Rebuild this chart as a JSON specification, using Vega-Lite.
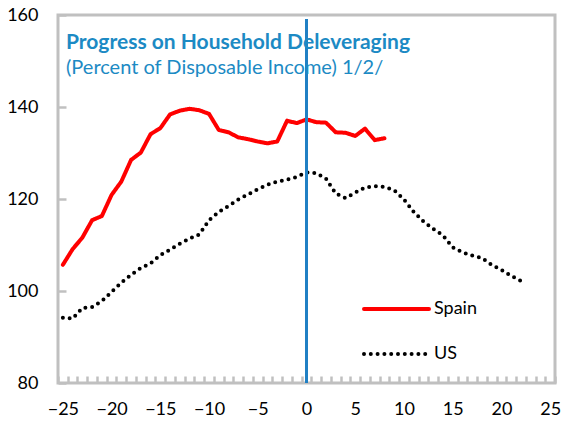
{
  "$schema": "https://vega.github.io/schema/vega-lite/v6.json",
  "width": 497,
  "height": 368,
  "autosize": {"type": "none"},
  "padding": {"left": 58, "top": 15, "right": 13, "bottom": 39},
  "background": "white",
  "config": {
    "font": "Lato",
    "view": {"stroke": "#c0c0c0", "strokeWidth": 3}
  },
  "title": {
    "text": "Progress on Household Deleveraging",
    "subtitle": "(Percent of Disposable Income) 1/2/",
    "anchor": "start",
    "frame": "group",
    "orient": "top",
    "offset": -72,
    "dx": 8,
    "font": "Lato",
    "fontSize": 21,
    "fontWeight": "bold",
    "color": "#1c8ac4",
    "subtitleFont": "Lato",
    "subtitleFontSize": 20,
    "subtitleColor": "#1c8ac4",
    "subtitlePadding": 5
  },
  "data": {
    "values": [
      {"series": "Spain", "x": -25, "y": 105.7},
      {"series": "Spain", "x": -24, "y": 109.1},
      {"series": "Spain", "x": -23, "y": 111.6},
      {"series": "Spain", "x": -22, "y": 115.4},
      {"series": "Spain", "x": -21, "y": 116.3},
      {"series": "Spain", "x": -20, "y": 120.9},
      {"series": "Spain", "x": -19, "y": 123.8},
      {"series": "Spain", "x": -18, "y": 128.5},
      {"series": "Spain", "x": -17, "y": 130.1},
      {"series": "Spain", "x": -16, "y": 134.1},
      {"series": "Spain", "x": -15, "y": 135.4},
      {"series": "Spain", "x": -14, "y": 138.4},
      {"series": "Spain", "x": -13, "y": 139.2},
      {"series": "Spain", "x": -12, "y": 139.6},
      {"series": "Spain", "x": -11, "y": 139.3},
      {"series": "Spain", "x": -10, "y": 138.5},
      {"series": "Spain", "x": -9, "y": 135.0},
      {"series": "Spain", "x": -8, "y": 134.5},
      {"series": "Spain", "x": -7, "y": 133.4},
      {"series": "Spain", "x": -6, "y": 133.0},
      {"series": "Spain", "x": -5, "y": 132.5},
      {"series": "Spain", "x": -4, "y": 132.1},
      {"series": "Spain", "x": -3, "y": 132.5},
      {"series": "Spain", "x": -2, "y": 137.0},
      {"series": "Spain", "x": -1, "y": 136.5},
      {"series": "Spain", "x": 0, "y": 137.3},
      {"series": "Spain", "x": 1, "y": 136.7},
      {"series": "Spain", "x": 2, "y": 136.6},
      {"series": "Spain", "x": 3, "y": 134.5},
      {"series": "Spain", "x": 4, "y": 134.4},
      {"series": "Spain", "x": 5, "y": 133.7},
      {"series": "Spain", "x": 6, "y": 135.3},
      {"series": "Spain", "x": 7, "y": 132.8},
      {"series": "Spain", "x": 8, "y": 133.2},
      {"series": "US", "x": -25, "y": 94.2},
      {"series": "US", "x": -24, "y": 94.0},
      {"series": "US", "x": -23, "y": 96.3},
      {"series": "US", "x": -22, "y": 96.5},
      {"series": "US", "x": -21, "y": 97.8},
      {"series": "US", "x": -20, "y": 99.8},
      {"series": "US", "x": -19, "y": 101.8},
      {"series": "US", "x": -18, "y": 103.5},
      {"series": "US", "x": -17, "y": 105.0},
      {"series": "US", "x": -16, "y": 106.0},
      {"series": "US", "x": -15, "y": 107.8},
      {"series": "US", "x": -14, "y": 109.0},
      {"series": "US", "x": -13, "y": 110.3},
      {"series": "US", "x": -12, "y": 111.4},
      {"series": "US", "x": -11, "y": 112.3},
      {"series": "US", "x": -10, "y": 115.4},
      {"series": "US", "x": -9, "y": 117.2},
      {"series": "US", "x": -8, "y": 118.5},
      {"series": "US", "x": -7, "y": 119.9},
      {"series": "US", "x": -6, "y": 121.0},
      {"series": "US", "x": -5, "y": 122.1},
      {"series": "US", "x": -4, "y": 123.1},
      {"series": "US", "x": -3, "y": 123.8},
      {"series": "US", "x": -2, "y": 124.2},
      {"series": "US", "x": -1, "y": 124.8},
      {"series": "US", "x": 0, "y": 125.8},
      {"series": "US", "x": 1, "y": 125.6},
      {"series": "US", "x": 2, "y": 124.4},
      {"series": "US", "x": 3, "y": 121.2},
      {"series": "US", "x": 4, "y": 120.2},
      {"series": "US", "x": 5, "y": 121.4},
      {"series": "US", "x": 6, "y": 122.5},
      {"series": "US", "x": 7, "y": 122.8},
      {"series": "US", "x": 8, "y": 122.6},
      {"series": "US", "x": 9, "y": 121.9},
      {"series": "US", "x": 10, "y": 119.9},
      {"series": "US", "x": 11, "y": 117.2},
      {"series": "US", "x": 12, "y": 115.1},
      {"series": "US", "x": 13, "y": 113.5},
      {"series": "US", "x": 14, "y": 112.1},
      {"series": "US", "x": 15, "y": 109.5},
      {"series": "US", "x": 16, "y": 108.4},
      {"series": "US", "x": 17, "y": 107.7},
      {"series": "US", "x": 18, "y": 107.2},
      {"series": "US", "x": 19, "y": 105.7},
      {"series": "US", "x": 20, "y": 104.6},
      {"series": "US", "x": 21, "y": 103.3},
      {"series": "US", "x": 22, "y": 102.2}
    ]
  },
  "resolve": {"axis": {"x": "independent"}},
  "layer": [
    {
      "mark": {"type": "line", "strokeCap": "round", "strokeJoin": "round"},
      "encoding": {
        "x": {
          "field": "x",
          "type": "quantitative",
          "scale": {"domain": [-25.5, 25.5], "nice": false, "zero": false},
          "axis": {
            "orient": "bottom",
            "title": null,
            "values": [-25.5, -24.5, -23.5, -22.5, -21.5, -20.5, -19.5, -18.5, -17.5, -16.5, -15.5, -14.5, -13.5, -12.5, -11.5, -10.5, -9.5, -8.5, -7.5, -6.5, -5.5, -4.5, -3.5, -2.5, -1.5, -0.5, 0.5, 1.5, 2.5, 3.5, 4.5, 5.5, 6.5, 7.5, 8.5, 9.5, 10.5, 11.5, 12.5, 13.5, 14.5, 15.5, 16.5, 17.5, 18.5, 19.5, 20.5, 21.5, 22.5, 23.5, 24.5, 25.5],
            "labels": false,
            "tickSize": -7,
            "tickWidth": 2.5,
            "tickColor": "#c0c0c0",
            "domain": false,
            "grid": false
          }
        },
        "y": {
          "field": "y",
          "type": "quantitative",
          "scale": {"domain": [80, 160], "nice": false, "zero": false},
          "axis": {
            "title": null,
            "values": [80, 100, 120, 140, 160],
            "labelFont": "Lato",
            "labelFontSize": 18,
            "labelColor": "#000000",
            "labelPadding": 28,
            "tickSize": -8,
            "tickWidth": 2.5,
            "tickColor": "#c0c0c0",
            "domain": false,
            "grid": false
          }
        },
        "color": {
          "field": "series",
          "type": "nominal",
          "scale": {"domain": ["Spain", "US"], "range": ["#ff0000", "#000000"]},
          "legend": {
            "title": null,
            "orient": "none",
            "legendX": 304,
            "legendY": 284,
            "symbolType": "stroke",
            "symbolSize": 4225,
            "symbolStrokeWidth": 4,
            "clipHeight": 20,
            "rowPadding": 25,
            "labelOffset": 3,
            "labelFont": "Lato",
            "labelFontSize": 18,
            "labelColor": "#000000",
            "encode": {"symbols": {"update": {"strokeCap": {"value": "round"}}}}
          }
        },
        "strokeDash": {
          "field": "series",
          "type": "nominal",
          "scale": {"domain": ["Spain", "US"], "range": [[1, 0], [0, 6.8]]},
          "legend": {
            "title": null,
            "orient": "none",
            "legendX": 304,
            "legendY": 284,
            "symbolType": "stroke",
            "symbolSize": 4225,
            "symbolStrokeWidth": 4,
            "clipHeight": 20,
            "rowPadding": 25,
            "labelOffset": 3,
            "labelFont": "Lato",
            "labelFontSize": 18,
            "labelColor": "#000000",
            "encode": {"symbols": {"update": {"strokeCap": {"value": "round"}}}}
          }
        },
        "strokeWidth": {"value": 4}
      }
    },
    {
      "mark": {"type": "rule", "color": "#2080c4", "strokeWidth": 3},
      "encoding": {
        "x": {
          "datum": 0,
          "type": "quantitative",
          "axis": {
            "orient": "bottom",
            "title": null,
            "values": [-25, -20, -15, -10, -5, 0, 5, 10, 15, 20, 25],
            "format": "d",
            "labelFlush": false,
            "labelFont": "Lato",
            "labelFontSize": 18,
            "labelColor": "#000000",
            "labelPadding": 17,
            "ticks": false,
            "domain": false,
            "grid": false
          }
        },
        "y": {"datum": 159},
        "y2": {"datum": 80}
      }
    }
  ]
}
